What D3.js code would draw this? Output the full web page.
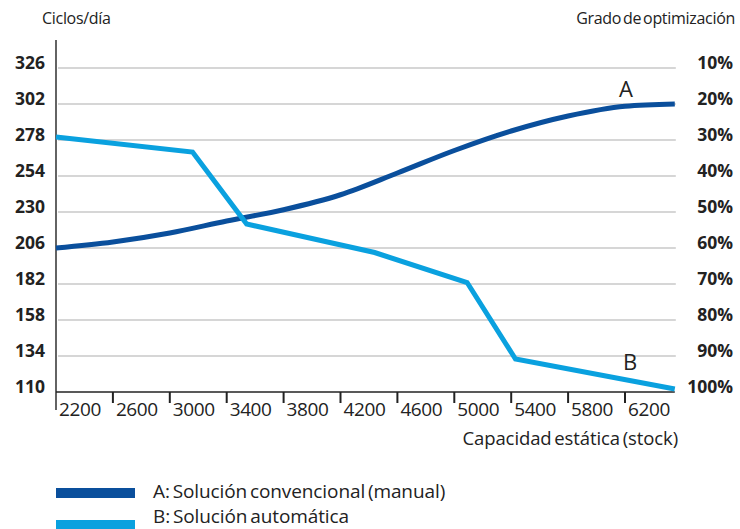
<!DOCTYPE html>
<html>
<head>
<meta charset="utf-8">
<script src="https://cdn.jsdelivr.net/npm/d3@7"></script>
<style>
  body { margin: 0; background: #fff; }
  text { font-family: "Open Sans", sans-serif; fill: #222; }
</style>
</head>
<body>
<svg id="chart" width="740" height="529"></svg>
<script>
// 데이터
const xTicks = [2200, 2600, 3000, 3400, 3800, 4200, 4600, 5000, 5400, 5800, 6200];
const yTicks = [110, 134, 158, 182, 206, 230, 254, 278, 302, 326];
const pctTicks = [100, 90, 80, 70, 60, 50, 40, 30, 20, 10];

const seriesAx = [2200, 2600, 3000, 3400, 3800, 4200, 4600, 5000, 5400, 5800, 6200, 6550];
const seriesAy = [206, 210, 216, 224, 231.5, 241.5, 256, 271, 284, 294, 300.5, 302];

const seriesBx = [2200, 3160, 3540, 4440, 5090, 5430, 6550];
const seriesBy = [280, 270, 222, 203, 183, 132, 112];

const legendLabels = ['A: Solución convencional (manual)', 'B: Solución automática'];
const colors = ['#0a4f9c', '#0aa1df'];

const svg = d3.select('#chart');

const x = d3.scaleLinear().domain([2200, 6200]).range([56, 625]);
const y = d3.scaleLinear().domain([110, 326]).range([392, 68]);
const yPct = d3.scaleLinear().domain([100, 10]).range([392, 68]);

/****************** 그리드 ******************/
svg.append('g')
  .selectAll('line')
  .data(yTicks.slice(1))
  .join('line')
  .attr('x1', x(2200) + 2)
  .attr('x2', x(6550) + 1)
  .attr('y1', d => y(d))
  .attr('y2', d => y(d))
  .attr('stroke', '#c8c8c8')
  .attr('stroke-width', 1.6);

/****************** 축 ******************/
svg.append('line')
  .attr('x1', x(2200)).attr('x2', x(2200))
  .attr('y1', 40).attr('y2', 410)
  .attr('stroke', '#222').attr('stroke-width', 1.4);

svg.append('line')
  .attr('x1', x(2200)).attr('x2', x(6550))
  .attr('y1', y(110)).attr('y2', y(110))
  .attr('stroke', '#222').attr('stroke-width', 1.4);

svg.append('g')
  .selectAll('line')
  .data(xTicks.slice(1))
  .join('line')
  .attr('x1', d => x(d)).attr('x2', d => x(d))
  .attr('y1', y(110)).attr('y2', y(110) + 11)
  .attr('stroke', '#222').attr('stroke-width', 2);

svg.append('g')
  .selectAll('text')
  .data(xTicks)
  .join('text')
  .text(d => d)
  .attr('x', d => x(d) + 3)
  .attr('y', 409)
  .attr('dominant-baseline', 'central')
  .attr('font-size', '19px')
  .attr('letter-spacing', '-0.4px');

svg.append('g')
  .selectAll('text')
  .data(yTicks)
  .join('text')
  .text(d => d)
  .attr('x', 45)
  .attr('y', d => y(d) - 6)
  .attr('text-anchor', 'end')
  .attr('dominant-baseline', 'central')
  .attr('font-size', '17.5px')
  .attr('font-weight', 700);

svg.append('g')
  .selectAll('text')
  .data(pctTicks)
  .join('text')
  .text(d => d + '%')
  .attr('x', 733)
  .attr('y', d => yPct(d) - 6)
  .attr('text-anchor', 'end')
  .attr('dominant-baseline', 'central')
  .attr('font-size', '17.5px')
  .attr('font-weight', 700);

svg.append('text').text('Ciclos/día')
  .attr('x', 42).attr('y', 18)
  .attr('dominant-baseline', 'central')
  .attr('font-size', '16px')
  .attr('letter-spacing', '-0.3px');

svg.append('text').text('Grado de optimización')
  .attr('x', 735).attr('y', 18)
  .attr('text-anchor', 'end')
  .attr('dominant-baseline', 'central')
  .attr('font-size', '16px')
  .attr('letter-spacing', '-0.3px')
  .attr('word-spacing', '-2px');

svg.append('text').text('Capacidad estática (stock)')
  .attr('x', 678).attr('y', 437)
  .attr('text-anchor', 'end')
  .attr('dominant-baseline', 'central')
  .attr('font-size', '18.5px')
  .attr('letter-spacing', '-0.1px')
  .attr('word-spacing', '-2px');

/****************** 선 ******************/
const lineA = d3.line()
  .x(d => x(d[0]))
  .y(d => y(d[1]))
  .curve(d3.curveMonotoneX);

const lineB = d3.line()
  .x(d => x(d[0]))
  .y(d => y(d[1]));

svg.append('path')
  .datum(d3.zip(seriesAx, seriesAy))
  .attr('d', lineA)
  .attr('fill', 'none')
  .attr('stroke', colors[0])
  .attr('stroke-width', 5);

svg.append('path')
  .datum(d3.zip(seriesBx, seriesBy))
  .attr('d', lineB)
  .attr('fill', 'none')
  .attr('stroke', colors[1])
  .attr('stroke-width', 5);

svg.append('text').text('A')
  .attr('x', 626).attr('y', 88)
  .attr('text-anchor', 'middle')
  .attr('dominant-baseline', 'central')
  .attr('font-size', '22px');

svg.append('text').text('B')
  .attr('x', 630).attr('y', 361)
  .attr('text-anchor', 'middle')
  .attr('dominant-baseline', 'central')
  .attr('font-size', '22px');

/****************** 범례 ******************/
legendLabels.forEach((label, i) => {
  svg.append('rect')
    .attr('x', 56).attr('y', 488 + i * 32)
    .attr('width', 79).attr('height', 10)
    .attr('fill', colors[i]);
  svg.append('text').text(label)
    .attr('x', 153).attr('y', 491 + i * 25)
    .attr('dominant-baseline', 'central')
    .attr('font-size', '19px')
    .attr('letter-spacing', '-0.1px')
    .attr('word-spacing', '-2px');
});
</script>
</body>
</html>
